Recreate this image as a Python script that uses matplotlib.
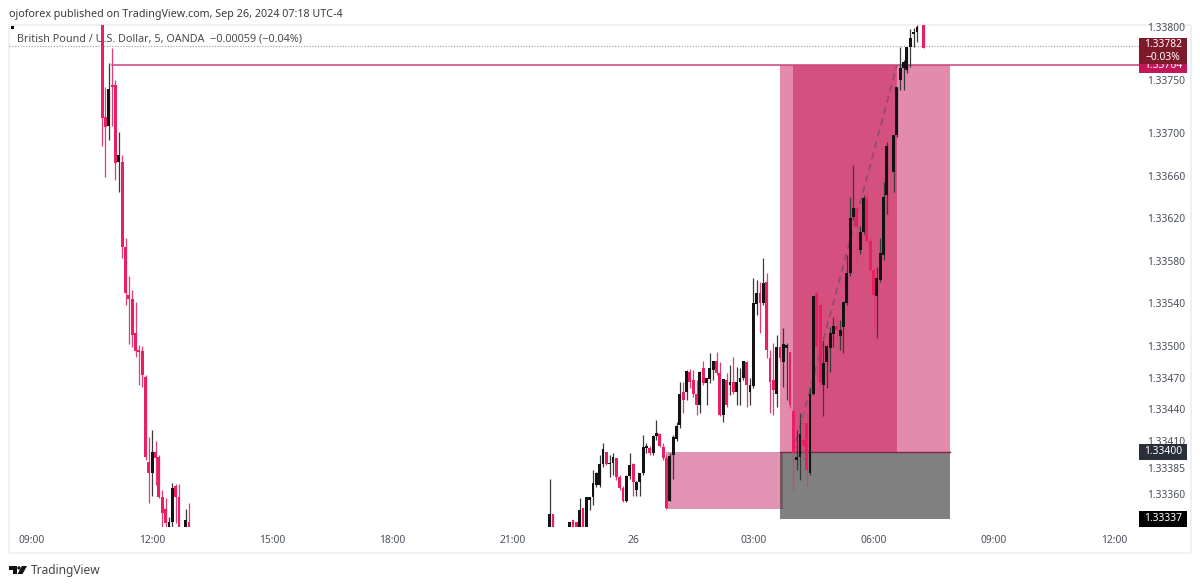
import matplotlib
matplotlib.use('Agg')
import matplotlib.pyplot as plt
from matplotlib.patches import Rectangle, Polygon, Circle
from matplotlib.transforms import blended_transform_factory

plt.rcParams['font.family'] = ['Noto Sans', 'DejaVu Sans']

# candles: bar number (5 min bars counted from 09:00), prices in points above 1.33000
bars = [21, 22, 23, 24, 25, 26, 27, 28, 29, 30, 31, 32, 33, 34, 35, 36, 37, 38, 39, 40, 41, 42, 43, 44, 46, 47,
        155, 156, 161, 162, 163, 164, 165, 166, 167, 168, 169, 170, 171, 172, 173, 174, 175, 176, 177, 178, 179, 180,
        181, 182, 183, 184, 185, 186, 187, 188, 189, 190, 191, 192, 193, 194, 195, 196, 197, 198, 199, 200, 201, 202,
        203, 204, 205, 206, 207, 208, 209, 210, 211, 212, 213, 214, 215, 216, 217, 218, 219, 220, 221, 222, 223, 224,
        225, 226, 227, 228, 229, 230, 231, 232, 233, 234, 235, 236, 237, 238, 239, 240, 241, 242, 243, 244, 245, 246,
        247, 248, 249, 250, 251, 252, 253, 254, 255, 256, 258, 259, 260, 261, 262, 263, 264, 265, 267]
highs = [806, 743, 766, 780, 750, 701, 679, 601, 566, 552, 541, 501, 500, 472, 414, 421, 410, 397, 364, 357, 339, 371, 370, 370, 346, 352,
         375, 342, 334, 336, 334, 357, 347, 358, 358, 383, 381, 397, 408, 400, 397, 399, 394, 378, 368, 378, 399, 390,
         373, 380, 416, 408, 406, 416, 430, 418, 408, 397, 399, 416, 428, 466, 466, 477, 478, 477, 468, 476, 486, 470,
         493, 486, 494, 485, 469, 474, 482, 489, 480, 479, 486, 486, 470, 564, 562, 560, 583, 568, 496, 503, 510, 500,
         517, 503, 494, 441, 421, 437, 439, 437, 461, 547, 552, 540, 505, 501, 518, 527, 528, 524, 541, 585, 640, 670,
         632, 613, 642, 646, 601, 573, 574, 601, 654, 692, 698, 743, 781, 769, 781, 798, 799, 802, 802]
body_tops = [806, 715, 742, 745, 745, 679, 673, 593, 548, 544, 512, 496, 495, 471, 391, 400, 400, 395, 358, 346, 334, 366, 368, 358, 336, 334,
             342, 342, 334, 336, 334, 345, 347, 358, 358, 371, 380, 389, 403, 400, 390, 395, 394, 376, 366, 377, 388, 389,
             372, 380, 405, 406, 404, 415, 418, 417, 405, 394, 396, 414, 424, 455, 456, 476, 475, 468, 455, 475, 479, 470,
             479, 486, 486, 474, 469, 468, 466, 466, 466, 470, 486, 485, 463, 540, 550, 550, 559, 560, 488, 468, 499, 499,
             502, 501, 494, 439, 395, 417, 411, 427, 455, 547, 550, 538, 484, 500, 512, 519, 519, 515, 541, 568, 620, 630,
             630, 607, 639, 639, 599, 571, 564, 587, 640, 688, 698, 743, 761, 767, 781, 790, 795, 800, 802]
body_bots = [714, 706, 707, 743, 672, 673, 593, 550, 544, 510, 495, 494, 472, 395, 380, 380, 394, 358, 343, 333, 326, 334, 358, 326, 326, 326,
             325, 325, 325, 325, 325, 325, 325, 325, 355, 358, 369, 369, 389, 389, 389, 390, 376, 366, 354, 354, 377, 372,
             364, 372, 380, 404, 399, 399, 415, 406, 394, 347, 354, 397, 412, 425, 449, 456, 466, 455, 444, 444, 465, 465,
             469, 477, 474, 435, 435, 444, 463, 456, 456, 466, 470, 463, 456, 462, 539, 540, 540, 496, 466, 458, 455, 488,
             485, 498, 444, 399, 392, 395, 406, 383, 380, 455, 499, 465, 463, 485, 498, 511, 515, 509, 518, 540, 568, 621,
             612, 590, 607, 599, 571, 548, 547, 562, 585, 642, 663, 698, 750, 761, 759, 781, 793, 795, 780]
lows = [688, 659, 694, 707, 656, 645, 583, 538, 502, 499, 489, 463, 461, 392, 352, 359, 369, 357, 328, 326, 325, 328, 333, 325, 325, 325,
        325, 325, 325, 325, 325, 325, 325, 325, 345, 350, 367, 367, 386, 388, 376, 378, 374, 364, 353, 353, 375, 359,
        359, 359, 378, 399, 397, 397, 411, 405, 392, 346, 354, 375, 410, 423, 437, 449, 460, 452, 435, 437, 463, 444,
        465, 468, 472, 434, 428, 442, 454, 455, 444, 444, 468, 442, 444, 460, 529, 512, 538, 488, 437, 435, 442, 486,
        461, 449, 441, 364, 383, 374, 392, 367, 378, 454, 468, 463, 434, 460, 475, 499, 505, 496, 493, 538, 566, 618,
        578, 586, 605, 597, 569, 517, 507, 560, 581, 624, 645, 696, 741, 741, 757, 762, 781, 786, 780]
falling = {21, 22, 24, 25, 27, 28, 29, 30, 31, 32, 33, 34, 35, 37, 38, 39, 40, 43, 44, 47,
           156, 162, 163, 165, 172, 175, 176, 177, 180, 185, 188, 189, 190, 195, 197, 198, 199, 201, 205, 206, 208, 210,
           214, 218, 220, 221, 222, 224, 227, 228, 231, 232, 235, 236, 241, 247, 250, 251, 252, 267}

# price and time axes
price_ticks = [1.33800, 1.33750, 1.33700, 1.33660, 1.33620, 1.33580, 1.33540, 1.33500, 1.33470,
               1.33440, 1.33410, 1.33385, 1.33360]
time_ticks = [0, 36, 72, 108, 144, 180, 216, 252, 288, 324]
time_labels = ['09:00', '12:00', '15:00', '18:00', '21:00', '26', '03:00', '06:00', '09:00', '12:00']

# drawing levels
last_price = 1.33782
entry_price = 1.33764
stop_price = 1.33400
low_price = 1.33337
box_low = 1.33346

RED = '#e91e63'
BLACK = '#131313'

fig = plt.figure(figsize=(12, 5.87), dpi=100)

# page furniture in pixel coordinates
page = fig.add_axes([0, 0, 1, 1], zorder=0)
page.set_xlim(0, 1200)
page.set_ylim(587, 0)
page.axis('off')
page.add_patch(Rectangle((9, 25), 1182, 528, fc='white', ec='#eceef2', lw=1.2))
page.text(9, 14, 'ojoforex published on TradingView.com, Sep 26, 2024 07:18 UTC-4', fontsize=7.72, color='#3a3a3a', va='center')
page.text(17, 39, 'British Pound / U.S. Dollar, 5, OANDA  \u22120.00059 (\u22120.04%)', fontsize=7.8, color='#4a4a4a', va='center')
page.text(31, 570.5, 'TradingView', fontsize=8.6, color='#444444', va='center')
# logo
page.add_patch(Polygon([(9, 566), (17, 566), (17, 574), (13, 574), (13, 569.5), (9, 569.5)], fc='#111111', ec='none'))
page.add_patch(Circle((19, 568), 1.7, fc='#111111', ec='none'))
page.add_patch(Polygon([(22, 566), (27, 566), (22.5, 574), (17.5, 574)], fc='#111111', ec='none'))
page.add_patch(Rectangle((11, 26), 2.5, 2.5, fc='black', ec='none'))

# main pane: 09:00 sits at 32 px, 12 bars per 40 px, 106250 px per price unit
ax = fig.add_axes([9 / 1200, 1 - 527 / 587, 1130 / 1200, 502 / 587], zorder=1)
ax.patch.set_alpha(0)
ax.set_xlim(-6.89, 331.5)
ax.set_ylim(1.333294, 1.338018)
for s in ax.spines.values():
    s.set_visible(False)

# zones
ax.add_patch(Rectangle((190, stop_price), 34, box_low - stop_price, fc='#e292b3', ec='none', zorder=1))
ax.add_patch(Rectangle((224, stop_price), 51, entry_price - stop_price, fc='#e38bad', ec='none', zorder=1))
ax.add_patch(Rectangle((228, stop_price), 31, entry_price - stop_price, fc='#d3507f', ec='none', zorder=1))
ax.add_patch(Rectangle((224, low_price), 51, stop_price - low_price, fc='#808080', ec='none', zorder=1))
ax.add_patch(Rectangle((224, box_low), 1, stop_price - box_low, fc='#71595f', ec='none', zorder=1))
ax.plot([224, 275], [stop_price, stop_price], color='#7a2a4a', lw=1, zorder=2)

# levels and path
ax.axhline(last_price, color='#9a9a9a', lw=0.8, ls=(0, (1, 1.5)), zorder=2)
ax.plot([24, 331.5], [entry_price, entry_price], color='#c9447a', lw=1.1, zorder=2)
ax.plot([228, 259], [stop_price, entry_price], color='#8f4a68', lw=1.2, ls=(0, (4, 3)), zorder=2)

# candles
wick_colors = ['#e23b77' if b in falling else '#3a3a3a' for b in bars]
body_colors = [RED if b in falling else BLACK for b in bars]
prices = lambda vals: [1.33 + v * 1e-5 for v in vals]
ax.vlines(bars, prices(lows), prices(highs), colors=wick_colors, lw=0.9, zorder=3)
ax.bar(bars, [(t - b) * 1e-5 for t, b in zip(body_tops, body_bots)], bottom=prices(body_bots), width=0.85,
       color=body_colors, lw=0, zorder=4)

ax.yaxis.tick_right()
ax.set_yticks(price_ticks, [f'{p:.5f}' for p in price_ticks])
ax.set_xticks(time_ticks, time_labels)
ax.tick_params(axis='both', length=0, labelsize=7.4, labelcolor='#4a4f5a')
ax.tick_params(axis='y', pad=5.5)
ax.tick_params(axis='x', pad=5.5)

# price tags on the scale
tag = blended_transform_factory(ax.transAxes, ax.transData)
px = 1 / 106250
tag_x = 1.0
tag_w = 48 / 1130


def price_tag(center, half, color, lines, z, weight='bold'):
    ax.add_patch(Rectangle((tag_x, center - half * px), tag_w, 2 * half * px, transform=tag, fc=color, ec='none',
                           clip_on=False, zorder=z))
    ax.text(tag_x + tag_w / 2, center, lines, transform=tag, color='white', fontsize=7.4, fontweight=weight,
            ha='center', va='center', clip_on=False, zorder=z, linespacing=1.15)


price_tag(entry_price, 8, '#c2185b', f'{entry_price:.5f}', 6)
price_tag(last_price - 5 * px, 13, '#7f1a2a', f'{last_price:.5f}\n\u22120.03%', 7)
price_tag(stop_price, 8, '#2a2e39', f'{stop_price:.5f}', 6)
price_tag(low_price, 8, '#000000', f'{low_price:.5f}', 6)

fig.savefig('out.png', dpi=100)
